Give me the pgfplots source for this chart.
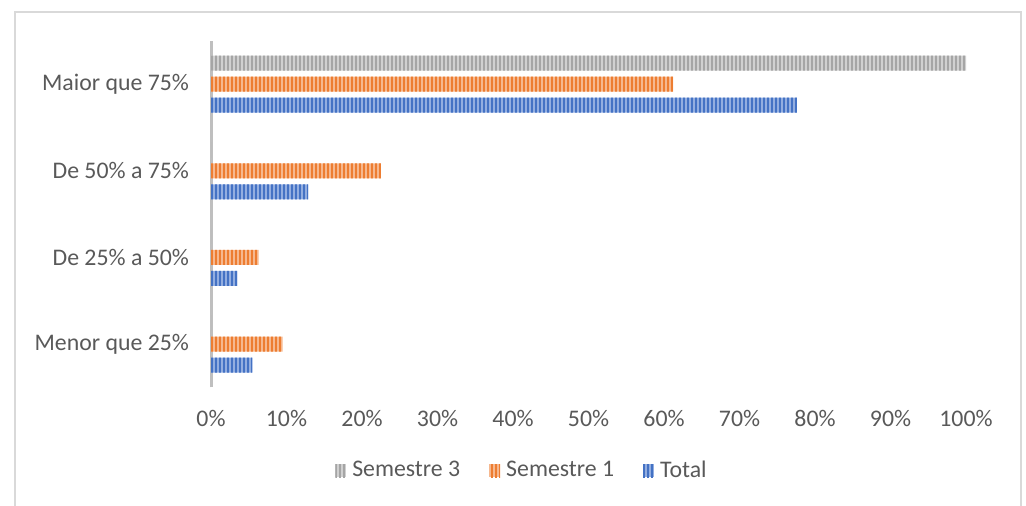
\documentclass[border=0pt]{standalone}
\usepackage{fontspec}
\setmainfont{Carlito}
\usepackage{pgfplots}
\pgfplotsset{compat=1.18}
\usetikzlibrary{patterns.meta}
\definecolor{txt}{HTML}{595959}
\definecolor{grayD}{HTML}{A5A5A5}
\definecolor{grayL}{HTML}{D0D0D0}
\definecolor{orgD}{HTML}{ED7D31}
\definecolor{orgL}{HTML}{F6B88F}
\definecolor{bluD}{HTML}{4472C4}
\definecolor{bluL}{HTML}{93AEE0}
\definecolor{frame}{HTML}{D9D9D9}
\definecolor{axln}{HTML}{BFBFBF}
\begin{document}
\begin{tikzpicture}
\useasboundingbox (0,0) rectangle (513pt,-253pt);
\draw[frame, line width=0.6pt] (7.5pt,-253pt) -- (7.5pt,-6pt) -- (510.5pt,-6pt) -- (510.5pt,-253pt);
\begin{axis}[
  scale only axis,
  width=377.5pt, height=173.3pt,
  at={(105.5pt,-193.7pt)}, anchor=south west,
  xbar, bar width=7.5pt,
  xmin=0, xmax=100, ymin=-0.5, ymax=3.5,
  xtick={0,10,...,100},
  xticklabels={0\%,10\%,20\%,30\%,40\%,50\%,60\%,70\%,80\%,90\%,100\%},
  ytick={0,1,2,3},
  yticklabels={Menor que 25\%,De 25\% a 50\%,De 50\% a 75\%,Maior que 75\%},
  axis lines*=left,
  x axis line style={draw=none},
  y axis line style={draw=axln, line width=1.5pt, -},
  major tick length=0pt,
  tick style={draw=none},
  ticklabel style={font=\fontsize{11.9}{14}\selectfont, text=txt},
  xticklabel style={yshift=-8pt},
  yticklabel style={xshift=-7.5pt},
  clip=false,
  legend columns=3,
  legend style={draw=none, fill=none, at={(0.4126,-0.24)}, anchor=center,
    font=\fontsize{11.9}{14}\selectfont, text=txt,
    /tikz/every even column/.style={column sep=13pt},
    nodes={inner sep=1.5pt}},
  legend image code/.code={\path[#1, draw=none] (0pt,-3.25pt) rectangle (5.5pt,3.25pt); \path (7pt,0pt);},
]
\addplot[draw=none, fill=grayL, bar shift=10.5pt,
  postaction={pattern={Lines[angle=90,distance=2pt,line width=1pt]}, pattern color=grayD}]
  coordinates {(0,0) (0,1) (0,2) (100,3)};
\addplot[draw=none, fill=orgL, bar shift=0pt,
  postaction={pattern={Lines[angle=90,distance=2pt,line width=1pt]}, pattern color=orgD}]
  coordinates {(9.5,0) (6.3,1) (22.5,2) (61.2,3)};
\addplot[draw=none, fill=bluL, bar shift=-10.5pt,
  postaction={pattern={Lines[angle=90,distance=2pt,line width=1pt]}, pattern color=bluD}]
  coordinates {(5.5,0) (3.5,1) (12.9,2) (77.6,3)};
\legend{Semestre 3, Semestre 1, Total}
\end{axis}
\end{tikzpicture}
\end{document}
